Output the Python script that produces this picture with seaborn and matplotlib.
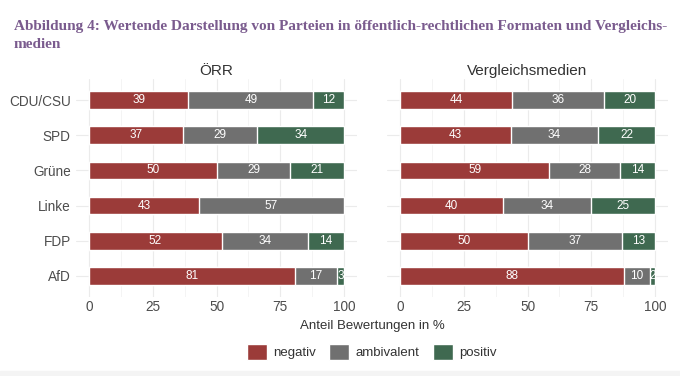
import matplotlib
matplotlib.use("Agg")
import matplotlib.pyplot as plt
import seaborn as sns
import pandas as pd
import numpy as np
from matplotlib.patches import Patch

parties = ["CDU/CSU", "SPD", "Grüne", "Linke", "FDP", "AfD"]
panels = ["ÖRR", "Vergleichsmedien"]
# shares in % (estimated, labels shown rounded)
oerr_neg = [39.0, 37.0, 50.0, 43.0, 52.0, 80.6]
oerr_amb = [49.0, 29.0, 29.0, 57.0, 34.0, 16.6]
oerr_pos = [12.0, 34.0, 21.0, 0.0, 14.0, 2.8]
vgl_neg = [44.0, 43.4, 58.6, 40.4, 50.0, 88.0]
vgl_amb = [36.0, 34.4, 27.6, 34.4, 37.0, 10.0]
vgl_pos = [20.0, 22.2, 13.8, 25.2, 13.0, 2.0]
categories = ["negativ", "ambivalent", "positiv"]
colors = {"negativ": "#9b3b39", "ambivalent": "#707070", "positiv": "#3f6950"}
xticks = [0, 25, 50, 75, 100]

sns.set_theme(style="whitegrid")
plt.rcParams["font.family"] = ["Liberation Sans", "DejaVu Sans"]

fig = plt.figure(figsize=(6.8, 3.76), dpi=100)
fig.patch.set_facecolor("white")

W, H = 680, 376
def ax_rect(x0, x1, y0, y1):
    return [x0 / W, 1 - y1 / H, (x1 - x0) / W, (y1 - y0) / H]

axL = fig.add_axes(ax_rect(76.25, 356.75, 79, 297))
axR = fig.add_axes(ax_rect(387.25, 667.75, 79, 297))

data = {
    "ÖRR": (oerr_neg, oerr_amb, oerr_pos),
    "Vergleichsmedien": (vgl_neg, vgl_amb, vgl_pos),
}

for ax, name in zip([axL, axR], panels):
    neg, amb, pos = data[name]
    df = pd.DataFrame({"party": parties, "neg": neg, "amb": amb, "pos": pos})
    df["c_amb"] = df["neg"] + df["amb"]
    df["c_pos"] = df["c_amb"] + df["pos"]
    for col, cat in [("c_pos", "positiv"), ("c_amb", "ambivalent"), ("neg", "negativ")]:
        sns.barplot(data=df, x=col, y="party", order=parties, orient="h",
                    color=colors[cat], saturation=1, width=0.5,
                    edgecolor="white", linewidth=1.0, ax=ax, zorder=2)
    for i, row in df.iterrows():
        starts = [0, row["neg"], row["c_amb"]]
        vals = [row["neg"], row["amb"], row["pos"]]
        for s, v in zip(starts, vals):
            if v > 0:
                ax.text(s + v / 2, i, f"{v:.0f}", ha="center", va="center",
                        color="white", fontsize=8.5, zorder=5)
    ax.set_xlim(-5, 105)
    ax.set_ylim(len(parties) - 0.4, -0.6)
    ax.set_xticks(xticks)
    ax.set_xticks([12.5, 37.5, 62.5, 87.5], minor=True)
    ax.grid(True, which="major", color="#ebebeb", linewidth=0.8)
    ax.grid(True, which="minor", axis="x", color="#f2f2f2", linewidth=0.6)
    ax.set_axisbelow(True)
    for sp in ax.spines.values():
        sp.set_visible(False)
    ax.tick_params(axis="both", length=0, labelsize=9.8, labelcolor="#4d4d4d", pad=4)
    ax.tick_params(axis="x", pad=2)
    ax.set_xlabel("")
    ax.set_ylabel("")
    ax.set_title(name, fontsize=11, color="#333333", pad=3)

axR.set_yticklabels([])

fig.text(372 / W, 1 - 326 / H, "Anteil Bewertungen in %", ha="center", va="center",
         fontsize=9.5, color="#333333")

handles = [Patch(facecolor=colors[c], edgecolor="white", label=c) for c in categories]
fig.legend(handles=handles, loc="center", bbox_to_anchor=(372 / W, 1 - 352 / H), ncol=3,
           frameon=False, fontsize=9.5, handlelength=1.5, handleheight=1.5,
           handletextpad=0.5, columnspacing=1.0, labelcolor="#333333")

fig.text(14 / W, 1 - 35.5 / H,
         "Abbildung 4: Wertende Darstellung von Parteien in öffentlich-rechtlichen Formaten und Vergleichs-\nmedien",
         ha="left", va="center", fontsize=11, fontweight="bold", color="#7a5b8e",
         family=["Liberation Serif"], linespacing=1.55)

fig.patches.append(plt.Rectangle((0, 0), 1, 5 / H, transform=fig.transFigure,
                                 color="#f4f4f4", zorder=0))

fig.savefig("out.png", dpi=100, facecolor="white")
